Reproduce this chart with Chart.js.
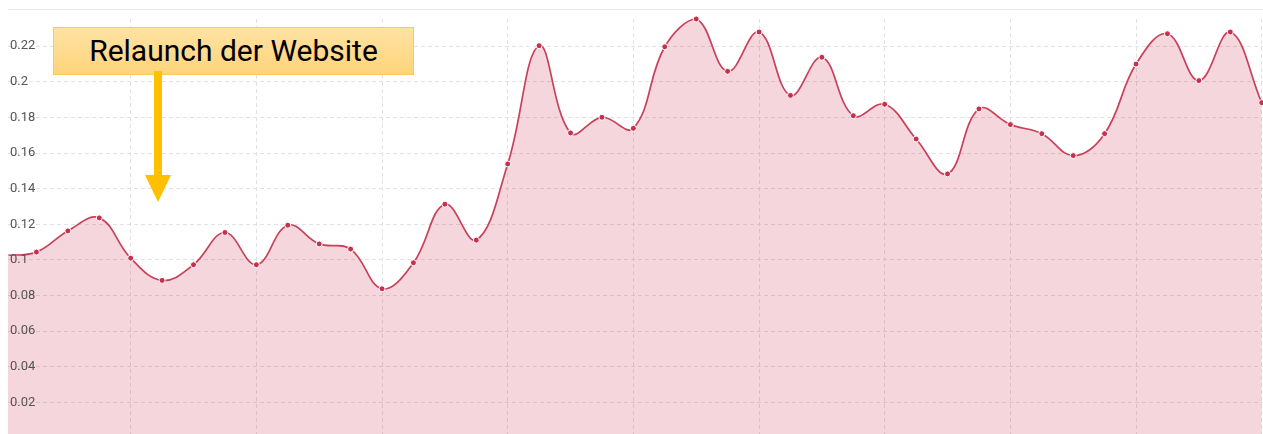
<!DOCTYPE html>
<html>
<head>
<meta charset="utf-8">
<script src="https://cdn.jsdelivr.net/npm/chart.js@4.4.1/dist/chart.umd.min.js"></script>
<style>
  html, body { margin: 0; padding: 0; overflow: hidden; background: #fff; }
  #wrap { position: absolute; left: 0; top: 0; width: 1263px; height: 438px; }
  #topline { position: absolute; left: 8px; top: 9px; width: 1255px; height: 1px; background: #ebebeb; }
  #note {
    position: absolute; left: 53px; top: 27px; width: 359px; height: 46px;
    border: 1px solid #f8c95e;
    background: linear-gradient(#ffe2a2, #ffd47b);
    font: 30px Roboto, sans-serif; color: #000;
    text-align: center; line-height: 46px;
  }
  #shaft { position: absolute; left: 154px; top: 71px; width: 8px; height: 105px; background: #ffc000; }
  #head {
    position: absolute; left: 145px; top: 175px; width: 0; height: 0;
    border-left: 13px solid transparent; border-right: 13px solid transparent;
    border-top: 27px solid #ffc000;
  }
</style>
</head>
<body>
<div id="wrap"><canvas id="chart"></canvas></div>
<div id="topline"></div>
<div id="note">Relaunch der Website</div>
<div id="shaft"></div>
<div id="head"></div>
<script>
// week index along the x axis (labels are not visible in the crop)
var weeks = [0, 1, 2, 3, 4, 5, 6, 7, 8, 9, 10, 11, 12, 13, 14, 15, 16, 17, 18, 19, 20,
             21, 22, 23, 24, 25, 26, 27, 28, 29, 30, 31, 32, 33, 34, 35, 36, 37, 38, 39, 40];
var ctr = [0.1025, 0.1044, 0.1163, 0.1236, 0.1010, 0.0885, 0.0973, 0.1154, 0.0973, 0.1195,
           0.1090, 0.1061, 0.0838, 0.0984, 0.1313, 0.1111, 0.1539, 0.2203, 0.1713, 0.1801,
           0.1739, 0.2197, 0.2353, 0.2059, 0.2280, 0.1924, 0.2138, 0.1810, 0.1874, 0.1679,
           0.1483, 0.1848, 0.1760, 0.1709, 0.1586, 0.1709, 0.2100, 0.2270, 0.2007, 0.2280,
           0.1883];
var yTicks = [0.02, 0.04, 0.06, 0.08, 0.1, 0.12, 0.14, 0.16, 0.18, 0.2, 0.22];

var points = [];
for (var i = 0; i < weeks.length; i++) {
    points.push({ x: weeks[i], y: ctr[i] });
}

var ctx = document.getElementById('chart').getContext('2d');
var chart = new Chart(ctx, {
    type: 'line',
    data: {
        datasets: [{
            data: points,
            borderColor: '#c9405a',
            borderWidth: 1.7,
            backgroundColor: 'rgba(204, 51, 85, 0.2)',
            fill: 'origin',
            tension: 0.4,
            pointRadius: 3,
            pointBorderWidth: 1,
            pointBackgroundColor: '#c8314d',
            pointBorderColor: '#ffffff',
            clip: { left: 0, top: 8, right: 8, bottom: 0 }
        }]
    },
    options: {
        responsive: true,
        maintainAspectRatio: false,
        animation: false,
        layout: { autoPadding: false, padding: { left: 4, top: 19, right: 0, bottom: 0 } },
        plugins: { legend: { display: false }, tooltip: { enabled: false } },
        scales: {
            x: {
                type: 'linear',
                min: 0.0945,
                max: 40.041,
                ticks: { display: false, stepSize: 4, includeBounds: false },
                grid: { color: '#e2e2e2', drawTicks: false },
                border: { display: false, dash: [4, 3] }
            },
            y: {
                min: 0,
                max: Math.max.apply(null, ctr),
                ticks: {
                    stepSize: 0.02,
                    includeBounds: false,
                    mirror: true,
                    padding: 2,
                    z: 1,
                    color: '#555',
                    font: { family: 'Roboto', size: 13 },
                    callback: function (v) {
                        var r = Math.round(v * 100) / 100;
                        return yTicks.indexOf(r) >= 0 ? String(r) : '';
                    }
                },
                grid: { color: '#e2e2e2', drawTicks: false },
                border: { display: false, dash: [4, 3] },
                afterFit: function (scale) {
                    scale.paddingTop = 0;
                    scale.paddingBottom = 0;
                }
            }
        }
    }
});
</script>
</body>
</html>
